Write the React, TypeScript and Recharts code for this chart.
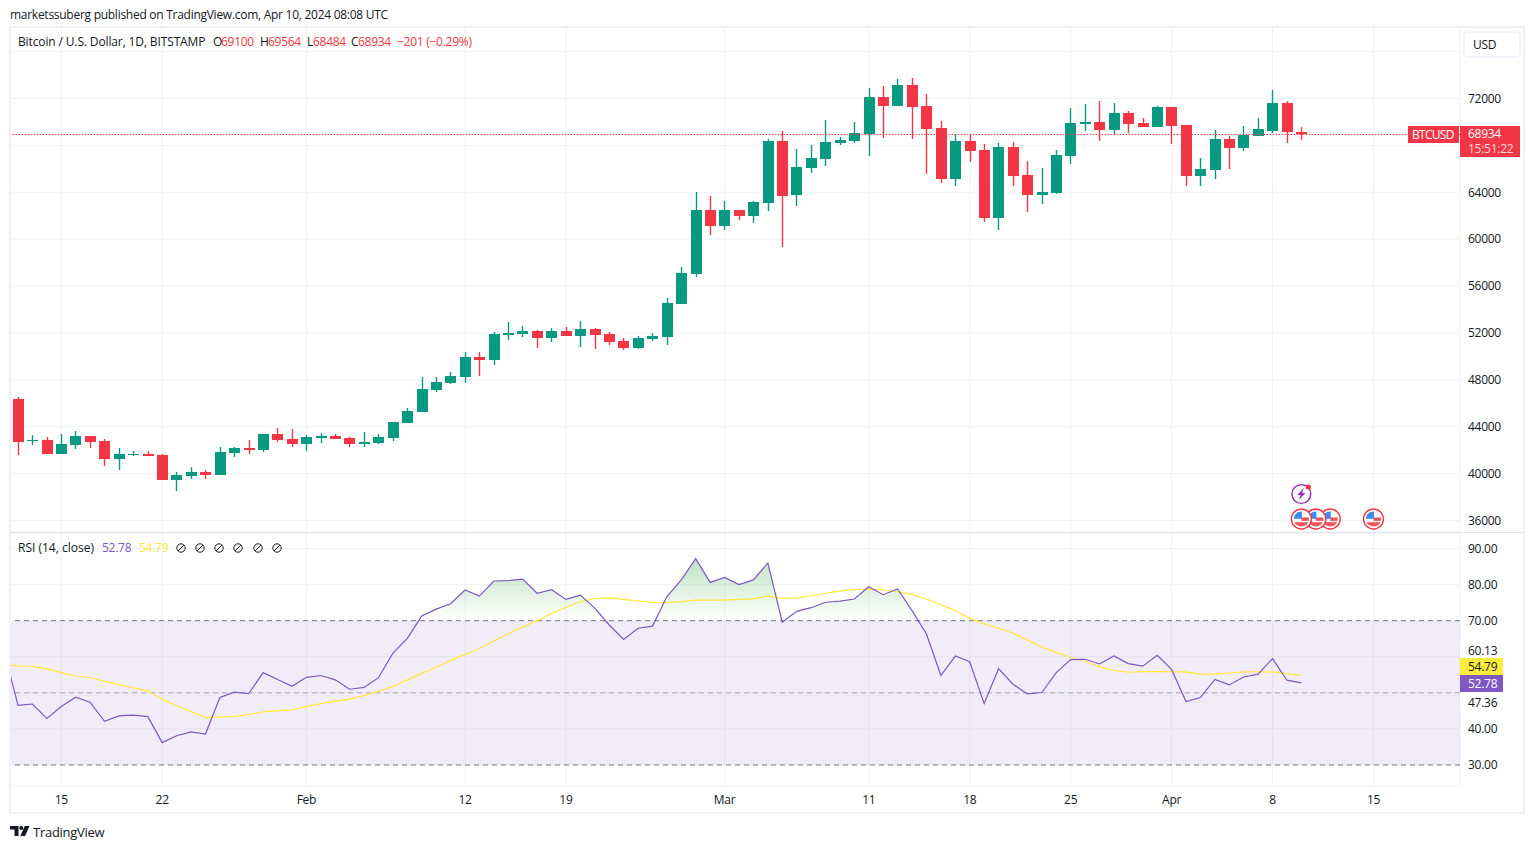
import React from 'react'
import {
  Area,
  Bar,
  CartesianGrid,
  ComposedChart,
  Line,
  ReferenceArea,
  ReferenceLine,
  Scatter,
  XAxis,
  YAxis,
} from 'recharts'

const FONT = '"Open Sans", "Noto Sans", sans-serif'
const UP = '#089981'
const DOWN = '#f23645'
const GRID = '#f1f2f5'
const INK = '#131722'
const RSI_COLOR = '#7e57c2'
const MA_COLOR = '#ffe93b'

// one row per daily candle, Jan 12 -> Apr 10 2024
const opens = [
  46365, 42781, 42867, 41672, 42440, 43208, 42781, 41246, 41587, 41672,
  41587, 39454, 39795, 40137, 39881, 41758, 42184, 42014, 43379, 42952,
  42526, 43037, 43208, 43037, 42526, 42611, 43037, 44318, 45255, 47132,
  47730, 48241, 49948, 49692, 51825, 51910, 52166, 51569, 52166, 51739,
  52337, 51910, 51313, 50716, 51484, 51654, 54468, 57028, 62488, 61123,
  62488, 61976, 63085, 68375, 63768, 66072, 66840, 68205, 68375, 68972,
  72129, 71361, 73153, 71361, 69484, 65133, 68375, 67607, 61806, 67863,
  65474, 63768, 63939, 67096, 69826, 69996, 69314, 70764, 69911, 69570,
  71276, 69740, 65389, 65901, 68546, 67778, 68802, 69229, 71617, 69100,
]
const highs = [
  46536, 43293, 43123, 43379, 43635, 43208, 42952, 42184, 41928, 41928,
  41672, 40137, 40563, 40307, 42270, 42270, 42867, 43379, 43890, 43805,
  43293, 43464, 43379, 43123, 43549, 43379, 44403, 45596, 48241, 48241,
  48668, 50374, 50374, 52081, 52934, 52593, 52251, 52422, 52507, 53019,
  52422, 52081, 51569, 51739, 51995, 54980, 57625, 64024, 63683, 63256,
  62488, 63256, 68546, 69229, 67693, 68034, 70167, 68717, 69996, 72897,
  73068, 73665, 73750, 72385, 70082, 68973, 68887, 68119, 68205, 68290,
  66669, 66072, 67607, 71191, 71532, 71788, 71617, 70935, 70338, 71361,
  71276, 69740, 66925, 69314, 68802, 69655, 70338, 72727, 71788, 69564,
]
const lows = [
  41587, 42440, 41672, 41672, 42099, 42184, 40649, 40307, 41502, 41502,
  39454, 38515, 39539, 39539, 39881, 41416, 41672, 41843, 42696, 42270,
  41928, 42611, 42952, 42270, 42270, 42526, 42781, 44318, 45255, 46962,
  47644, 47730, 48327, 49265, 51398, 51654, 50716, 51228, 51739, 50801,
  50630, 50972, 50545, 50630, 51313, 50972, 54468, 56772, 60355, 60782,
  61635, 61379, 62403, 59332, 62829, 65645, 66242, 68034, 68205, 67096,
  68631, 71361, 68546, 65560, 64792, 64536, 66584, 61464, 60782, 64536,
  62318, 63000, 63853, 66413, 69229, 68375, 68887, 69058, 69570, 69570,
  68119, 64536, 64536, 65133, 65986, 67522, 68802, 69058, 68205, 68484,
]
const closes = [
  42696, 42867, 41672, 42526, 43208, 42696, 41246, 41672, 41672, 41502,
  39454, 39881, 40137, 39881, 41843, 42184, 42014, 43379, 42867, 42526,
  43123, 43208, 42952, 42526, 42696, 43123, 44403, 45340, 47218, 47815,
  48327, 49948, 49692, 51910, 51995, 52166, 51569, 52166, 51739, 52337,
  51825, 51228, 50716, 51569, 51739, 54555, 57113, 62488, 61123, 62488,
  61976, 63171, 68375, 63683, 66157, 66925, 68290, 68461, 69058, 72129,
  71361, 73153, 71276, 69399, 65133, 68375, 67522, 61806, 67863, 65389,
  63768, 64024, 67181, 69911, 69996, 69314, 70764, 69826, 69570, 71276,
  69655, 65389, 65986, 68546, 67778, 68887, 69399, 71617, 69135, 68934,
]

const priceTicks = [36000, 40000, 44000, 48000, 52000, 56000, 60000, 64000, 68000, 72000, 76000]
// grid only: their labels sit behind the price tag and the currency button
const unlabelledPrices = [68000, 76000]
const lastClose = 68934

// day offsets from Jan 12 where the time axis has a label
const dayTicks = [3, 10, 20, 31, 38, 49, 59, 66, 73, 80, 87, 94]
const dayLabels = ['15', '22', 'Feb', '12', '19', 'Mar', '11', '18', '25', 'Apr', '8', '15']

// first value of each RSI list belongs to the day before the first candle
const rsiValues = [
  62.0, 46.5, 46.9, 42.9, 46.2, 48.8, 47.4, 42.1, 43.6, 43.8, 43.4,
  36.2, 38.1, 39.2, 38.6, 48.7, 50.2, 49.8, 55.6, 53.7, 51.8,
  54.3, 54.8, 53.6, 51.0, 51.5, 54.2, 61.0, 65.1, 71.3, 73.2,
  74.7, 78.5, 76.8, 81.0, 81.1, 81.5, 77.6, 78.6, 75.9, 77.1,
  73.5, 68.8, 64.8, 67.9, 68.5, 76.7, 81.3, 87.2, 80.6, 82.0,
  80.0, 81.3, 86.0, 69.6, 72.6, 73.6, 75.1, 75.4, 76.0, 79.4,
  77.2, 78.8, 72.8, 66.3, 54.8, 60.2, 58.6, 47.0, 56.7, 52.4,
  49.7, 50.1, 55.6, 59.2, 59.3, 58.0, 60.2, 58.1, 57.4, 60.4,
  56.5, 47.6, 48.7, 53.7, 52.2, 54.4, 55.2, 59.5, 53.5, 52.78,
]
const rsiMaValues = [
  57.8, 57.5, 57.3, 56.65, 55.6, 54.6, 54.25, 53.2, 52.3, 51.4, 50.55,
  48.2, 46.5, 44.8, 43.2, 43.25, 43.4, 44.0, 44.7, 45.0, 45.3,
  46.2, 47.0, 47.7, 48.25, 49.3, 50.4, 51.75, 53.6, 55.4, 57.1,
  59.0, 60.6, 62.3, 64.4, 66.4, 68.2, 70.0, 72.0, 73.65, 75.3,
  76.15, 76.3, 75.9, 75.5, 75.1, 75.0, 75.3, 75.7, 75.7, 75.7,
  75.9, 76.05, 76.8, 76.2, 76.3, 76.9, 77.6, 78.2, 78.6, 78.8,
  78.5, 78.0, 77.3, 76.0, 74.4, 72.8, 70.7, 69.1, 67.9, 66.6,
  64.6, 62.7, 61.2, 59.8, 58.7, 57.2, 56.2, 55.7, 55.9, 55.9,
  55.8, 55.8, 55.2, 55.2, 55.5, 55.8, 55.8, 55.8, 55.3, 54.79,
]
const rsiTicks = [30, 40, 50, 60, 70, 80, 90]
const unlabelledRsi = [50, 60]

const usEventDays = [94, 91, 90, 89]
const usEventLevel = 36130
const cryptoEventDays = [89]
const cryptoEventLevel = 38260

const candleRows = opens.map((open, i) => ({
  day: i,
  open,
  high: highs[i],
  low: lows[i],
  close: closes[i],
  range: [lows[i], highs[i]],
}))
const rsiRows = rsiValues.map((rsi, i) => ({ day: i - 1, rsi, ma: rsiMaValues[i] }))
const usEventRows = usEventDays.map((day) => ({ day, level: usEventLevel }))
const cryptoEventRows = cryptoEventDays.map((day) => ({ day, level: cryptoEventLevel }))

const dayDomain: [number, number] = [-0.555, 100]

const dayLabel = (day: number) => dayLabels[dayTicks.indexOf(day)] ?? ''

function Candle(props: any) {
  const { x, y, width, height, payload } = props
  if (!payload) return null
  const perUnit = height / (payload.high - payload.low)
  // snap bodies to whole pixels so the edges stay crisp
  const top = Math.round(y + (payload.high - Math.max(payload.open, payload.close)) * perUnit)
  const bottom = Math.round(y + (payload.high - Math.min(payload.open, payload.close)) * perUnit)
  const color = payload.close >= payload.open ? UP : DOWN
  const left = Math.round(x)
  const mid = left + width / 2
  return (
    <g>
      <rect x={mid - 0.7} y={y} width={1.4} height={height} fill={color} />
      <rect x={left} y={top} width={width} height={Math.max(bottom - top, 1)} fill={color} />
    </g>
  )
}

function FlagMarker(props: any) {
  const { cx, cy } = props
  const id = `flag-${Math.round(cx)}`
  return (
    <g transform={`translate(${cx},${cy})`}>
      <clipPath id={id}>
        <circle r={7.6} />
      </clipPath>
      <circle r={10} fill="#fff" stroke="#f23645" strokeWidth={1.4} />
      <g clipPath={`url(#${id})`}>
        <rect x={-8} y={-8} width={16} height={16} fill="#f7f7f7" />
        <rect x={0} y={-1.5} width={8} height={3.4} fill="#f0565c" />
        <rect x={-8} y={3.2} width={16} height={5} fill="#f0565c" />
        <rect x={-8} y={-8} width={8.5} height={7.8} fill="#3d8bef" />
      </g>
    </g>
  )
}

function CryptoMarker(props: any) {
  const { cx, cy } = props
  return (
    <g transform={`translate(${cx},${cy})`}>
      <circle r={9.4} fill="#fff" stroke="#9c27b0" strokeWidth={1.4} />
      <path d="M2.5 -6 L-4 1 L-0.8 1 L-2.5 6 L4 -1 L0.8 -1 Z" fill="#9c27b0" />
      <circle cx={7} cy={-7} r={2.6} fill="#f23645" />
    </g>
  )
}

function Text(props: { x: number; y: number; color?: string; size?: number; spacing?: number; children: React.ReactNode }) {
  const { x, y, color = INK, size = 12, spacing, children } = props
  return (
    <span
      style={{
        position: 'absolute',
        left: x,
        top: y - 10,
        height: 20,
        lineHeight: '20px',
        fontSize: size,
        letterSpacing: spacing,
        color,
        whiteSpace: 'nowrap',
      }}
    >
      {children}
    </span>
  )
}

function Tag(props: { left: number; top: number; width: number; height: number; bg: string; color: string; children?: React.ReactNode }) {
  const { left, top, width, height, bg, color, children } = props
  return (
    <div
      style={{
        position: 'absolute',
        left,
        top,
        width,
        height,
        background: bg,
        color,
        fontSize: 12,
        lineHeight: `${height}px`,
        paddingLeft: 8,
        boxSizing: 'border-box',
        whiteSpace: 'nowrap',
      }}
    >
      {children}
    </div>
  )
}

function HiddenIcon({ x, y }: { x: number; y: number }) {
  return (
    <svg style={{ position: 'absolute', left: x - 6, top: y - 6 }} width={12} height={12} viewBox="0 0 12 12">
      <circle cx={6} cy={6} r={4.2} fill="none" stroke={INK} strokeWidth={1} />
      <path d="M3.2 8.8 L8.8 3.2" stroke={INK} strokeWidth={1} />
    </svg>
  )
}

export default function App() {
  return (
    <div
      style={{
        position: 'absolute',
        left: 0,
        top: 0,
        width: 1534,
        height: 849,
        background: '#fff',
        overflow: 'hidden',
        fontFamily: FONT,
        letterSpacing: -0.27,
        color: INK,
      }}
    >
      <div style={{ position: 'absolute', left: 10, top: 27 }}>
        <ComposedChart width={1514} height={505} data={candleRows} margin={{ top: 0, right: 0, bottom: 0, left: 0 }}>
          <CartesianGrid stroke={GRID} />
          <XAxis dataKey="day" type="number" domain={dayDomain} ticks={dayTicks} interval={0} allowDataOverflow hide />
          <YAxis
            orientation="right"
            type="number"
            width={64}
            domain={[35019, 78100]}
            ticks={priceTicks}
            interval={0}
            allowDataOverflow
            axisLine={false}
            tickLine={false}
            tickMargin={2}
            tickFormatter={(v: number) => (unlabelledPrices.includes(v) ? '' : String(v))}
            tick={{ fontSize: 12, fill: INK, fontFamily: FONT }}
          />
          <ReferenceLine y={lastClose} stroke={DOWN} strokeWidth={1} strokeDasharray="1.5 1.5" />
          <Bar dataKey="range" barSize={11} shape={Candle} isAnimationActive={false} />
          <Scatter data={usEventRows} dataKey="level" shape={FlagMarker} isAnimationActive={false} />
          <Scatter data={cryptoEventRows} dataKey="level" shape={CryptoMarker} isAnimationActive={false} />
        </ComposedChart>
      </div>

      <div style={{ position: 'absolute', left: 10, top: 533 }}>
        <ComposedChart width={1514} height={280} data={rsiRows} margin={{ top: 0, right: 0, bottom: 0, left: 0 }}>
          <defs>
            <linearGradient id="overbought" gradientUnits="userSpaceOnUse" x1={0} y1={15.5} x2={0} y2={88}>
              <stop offset="0%" stopColor="#4caf50" stopOpacity={0.68} />
              <stop offset="100%" stopColor="#4caf50" stopOpacity={0} />
            </linearGradient>
          </defs>
          <ReferenceArea y1={30} y2={70} fill={RSI_COLOR} fillOpacity={0.11} stroke="none" />
          <CartesianGrid stroke={GRID} />
          <XAxis
            dataKey="day"
            type="number"
            height={27}
            domain={dayDomain}
            ticks={dayTicks}
            interval={0}
            allowDataOverflow
            axisLine={false}
            tickLine={false}
            tickMargin={3}
            tickFormatter={dayLabel}
            tick={{ fontSize: 12, fill: INK, fontFamily: FONT }}
          />
          <YAxis
            orientation="right"
            type="number"
            width={64}
            domain={[24.18, 94.3]}
            ticks={rsiTicks}
            interval={0}
            allowDataOverflow
            axisLine={false}
            tickLine={false}
            tickMargin={2}
            tickFormatter={(v: number) => (unlabelledRsi.includes(v) ? '' : v.toFixed(2))}
            tick={{ fontSize: 12, fill: INK, fontFamily: FONT }}
          />
          <ReferenceLine y={70} stroke="#787b86" strokeDasharray="5 4" />
          <ReferenceLine y={50} stroke="#787b86" strokeOpacity={0.55} strokeDasharray="5 4" />
          <ReferenceLine y={30} stroke="#787b86" strokeDasharray="5 4" />
          <Area dataKey="rsi" baseValue={70} stroke="none" fill="url(#overbought)" isAnimationActive={false} />
          <Line dataKey="ma" stroke={MA_COLOR} strokeWidth={1.2} dot={false} isAnimationActive={false} />
          <Line dataKey="rsi" stroke={RSI_COLOR} strokeWidth={1.2} dot={false} isAnimationActive={false} />
        </ComposedChart>
      </div>

      {/* pane frame and divider */}
      <div
        style={{
          position: 'absolute',
          left: 9,
          top: 26,
          width: 1516,
          height: 788,
          boxSizing: 'border-box',
          border: '2px solid #f0f1f6',
        }}
      />
      <div style={{ position: 'absolute', left: 11, top: 532, width: 1512, height: 1, background: '#e0e3eb' }} />

      <Text x={10} y={15}>marketssuberg published on TradingView.com, Apr 10, 2024 08:08 UTC</Text>

      {/* price legend */}
      <Text x={18} y={42} spacing={-0.13}>Bitcoin / U.S. Dollar, 1D, BITSTAMP</Text>
      <Text x={213} y={42}>O</Text>
      <Text x={221} y={42} color={DOWN}>69100</Text>
      <Text x={260} y={42}>H</Text>
      <Text x={268} y={42} color={DOWN}>69564</Text>
      <Text x={307} y={42}>L</Text>
      <Text x={313} y={42} color={DOWN}>68484</Text>
      <Text x={351} y={42}>C</Text>
      <Text x={358} y={42} color={DOWN}>68934</Text>
      <Text x={397} y={42} color={DOWN}>−201 (−0.29%)</Text>

      {/* rsi legend */}
      <Text x={18} y={548} spacing={0}>RSI (14, close)</Text>
      <Text x={102} y={548} color={RSI_COLOR}>52.78</Text>
      <Text x={139} y={548} color={MA_COLOR}>54.79</Text>
      {[181, 200, 219, 238, 258, 277].map((x) => (
        <HiddenIcon key={x} x={x} y={548} />
      ))}

      {/* currency button */}
      <div
        style={{
          position: 'absolute',
          left: 1463,
          top: 31,
          width: 58,
          height: 27,
          boxSizing: 'border-box',
          border: '2px solid #f0f3fa',
          borderRadius: 5,
          background: '#fff',
          fontSize: 12,
          lineHeight: '23px',
          paddingLeft: 8,
        }}
      >
        USD
      </div>

      {/* last value tags */}
      <Tag left={1408} top={126} width={51} height={17} bg={DOWN} color="#fff">
        <span style={{ marginLeft: -4, letterSpacing: -0.7 }}>BTCUSD</span>
      </Tag>
      <div
        style={{
          position: 'absolute',
          left: 1460,
          top: 126,
          width: 60,
          height: 31,
          background: DOWN,
          color: '#fff',
          fontSize: 12,
          lineHeight: '15px',
          paddingLeft: 8,
          boxSizing: 'border-box',
        }}
      >
        <div>68934</div>
        <div style={{ opacity: 0.8 }}>15:51:22</div>
      </div>
      <Tag left={1460} top={644} width={43} height={14} bg="#fff" color={INK}>60.13</Tag>
      <Tag left={1460} top={695} width={43} height={16} bg="#fff" color={INK}>47.36</Tag>
      <Tag left={1460} top={658} width={43} height={17} bg="#ffeb3b" color={INK}>54.79</Tag>
      <Tag left={1460} top={675} width={43} height={17} bg={RSI_COLOR} color="#fff">52.78</Tag>

      {/* footer logo */}
      <svg style={{ position: 'absolute', left: 10, top: 826 }} width={20} height={11} viewBox="0 0 20 11">
        <path d="M0 0 H8.5 V10 H4.5 V3.6 H0 Z" fill={INK} />
        <circle cx={11.3} cy={2} r={2} fill={INK} />
        <path d="M14.8 0 H19.5 L15 10 H10.3 Z" fill={INK} />
      </svg>
      <Text x={33} y={832} size={13}>TradingView</Text>
    </div>
  )
}
